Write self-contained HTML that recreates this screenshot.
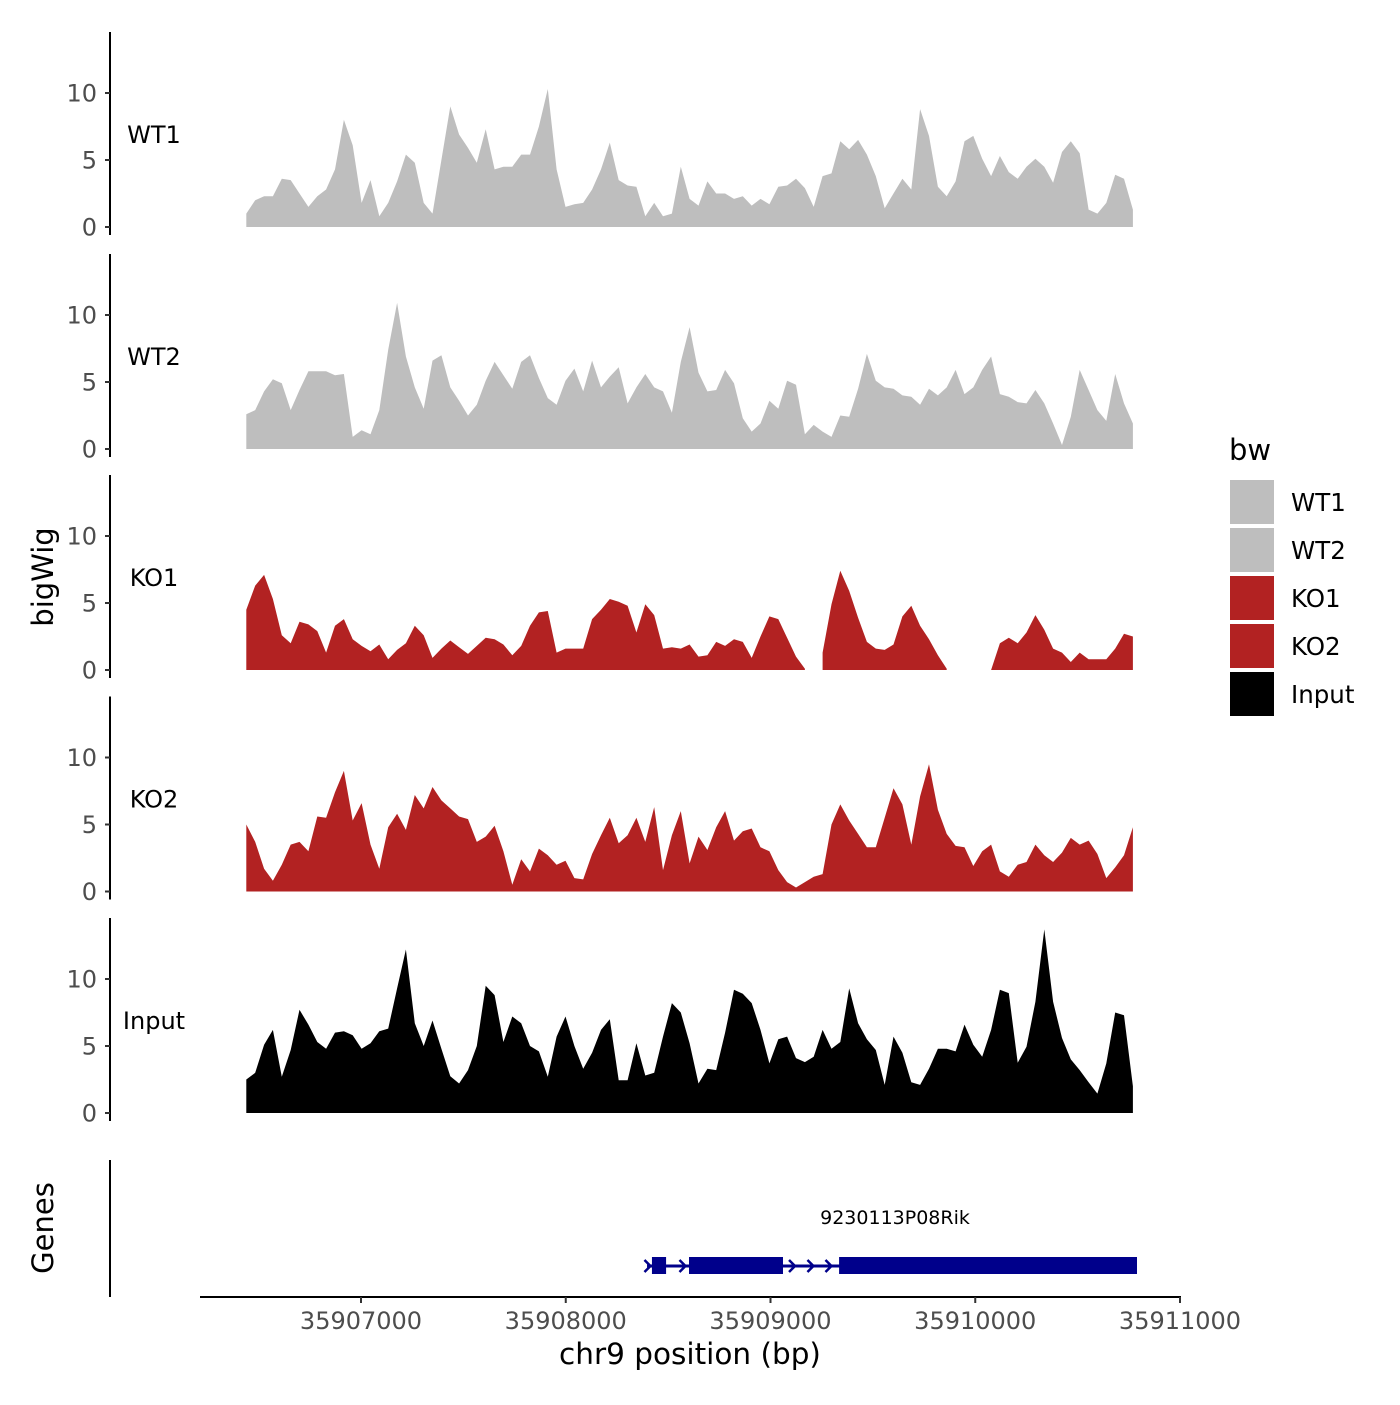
<!DOCTYPE html>
<html><head><meta charset="utf-8"><style>
body{margin:0;background:#fff;}
svg text{font-family:"DejaVu Sans","Liberation Sans",sans-serif;}
</style></head><body>
<svg id="chart" width="1400" height="1400" viewBox="0 0 1400 1400" xmlns="http://www.w3.org/2000/svg">
<rect width="1400" height="1400" fill="#fff"/>
<g id="tracks"></g>
<g id="genes"></g>
<g id="axes"></g>
<text x="0" y="0" transform="translate(53,577) rotate(-90)" text-anchor="middle" font-size="29" fill="#000">bigWig</text>
<text x="0" y="0" transform="translate(53,1228) rotate(-90)" text-anchor="middle" font-size="29" fill="#000">Genes</text>
<text x="690" y="1364" text-anchor="middle" font-size="29.5" fill="#000">chr9 position (bp)</text>
<g>
<text x="1229" y="460" font-size="29" fill="#000">bw</text>
<g id="legendItems"></g>
</g>
</svg>
<script>
const binStart = 35906440;
const binStep = 43.3;
const trackNames = ["WT1","WT2","KO1","KO2","Input"];
const trackColors = ["#bebebe","#bebebe","#b22222","#b22222","#000000"];
const yTicks = [0,5,10];
const xTicks = [35907000,35908000,35909000,35910000,35911000];
const wt1 = [1.0,2.0,2.3,2.3,3.6,3.5,2.5,1.5,2.3,2.8,4.3,8.0,6.1,1.8,3.5,0.8,1.8,3.4,5.4,4.8,1.8,1.0,5.0,9.0,6.9,5.9,4.8,7.3,4.3,4.5,4.5,5.4,5.4,7.5,10.3,4.3,1.5,1.7,1.8,2.8,4.3,6.3,3.5,3.1,3.0,0.8,1.8,0.8,1.0,4.5,2.1,1.6,3.4,2.5,2.5,2.1,2.3,1.6,2.1,1.7,3.0,3.1,3.6,2.9,1.5,3.8,4.0,6.4,5.8,6.5,5.4,3.8,1.4,2.5,3.6,2.8,8.8,6.8,3.0,2.3,3.4,6.4,6.8,5.1,3.8,5.3,4.1,3.6,4.5,5.1,4.5,3.3,5.6,6.4,5.5,1.3,1.0,1.8,3.9,3.6,1.3];
const wt2 = [2.6,2.9,4.3,5.2,4.9,2.9,4.4,5.8,5.8,5.8,5.5,5.6,0.9,1.4,1.1,2.9,7.4,10.9,6.9,4.6,3.0,6.6,7.0,4.6,3.6,2.5,3.3,5.1,6.5,5.5,4.5,6.5,7.0,5.3,3.8,3.3,5.1,6.0,4.3,6.6,4.6,5.4,6.1,3.4,4.6,5.6,4.6,4.3,2.7,6.5,9.1,5.7,4.3,4.4,5.9,4.9,2.3,1.3,1.9,3.6,3.0,5.1,4.8,1.1,1.8,1.3,0.9,2.5,2.4,4.5,7.1,5.1,4.6,4.5,4.0,3.9,3.3,4.5,4.0,4.6,5.9,4.1,4.6,5.9,6.9,4.1,3.9,3.5,3.4,4.4,3.4,1.9,0.3,2.4,5.9,4.4,2.9,2.1,5.6,3.4,1.9];
const ko1 = [4.5,6.3,7.1,5.3,2.6,2.0,3.6,3.4,2.9,1.3,3.3,3.8,2.3,1.8,1.4,1.9,0.8,1.5,2.0,3.3,2.6,0.9,1.6,2.2,1.7,1.2,1.8,2.4,2.3,1.9,1.1,1.8,3.3,4.3,4.4,1.3,1.6,1.6,1.6,3.8,4.5,5.3,5.1,4.8,2.8,4.9,4.1,1.6,1.7,1.6,1.9,1.0,1.1,2.1,1.8,2.3,2.1,0.9,2.5,4.0,3.8,2.4,1.0,0.1,null,1.3,4.9,7.4,5.9,3.9,2.1,1.6,1.5,1.9,4.0,4.8,3.3,2.3,1.1,0.1,null,null,null,null,0,2.0,2.4,2.0,2.8,4.1,3.0,1.6,1.3,0.6,1.3,0.8,0.8,0.8,1.6,2.7,2.5];
const ko2 = [5.0,3.7,1.7,0.8,2.0,3.5,3.7,3.0,5.6,5.5,7.4,9.0,5.3,6.6,3.5,1.7,4.8,5.8,4.6,7.2,6.2,7.8,6.8,6.2,5.6,5.4,3.7,4.1,4.9,3.0,0.5,2.4,1.5,3.2,2.7,2.0,2.3,1.0,0.9,2.8,4.2,5.5,3.6,4.2,5.5,3.7,6.3,1.6,4.2,6.0,2.1,4.1,3.1,4.8,6.0,3.8,4.5,4.7,3.3,3.0,1.6,0.7,0.3,0.7,1.1,1.3,5.0,6.5,5.3,4.3,3.3,3.3,5.5,7.7,6.5,3.5,7.1,9.5,6.1,4.3,3.4,3.3,1.9,3.0,3.5,1.5,1.1,2.0,2.2,3.5,2.7,2.2,2.9,4.0,3.5,3.8,2.8,1.0,1.8,2.7,4.8];
const input = [2.5,3.0,5.1,6.2,2.7,4.7,7.7,6.6,5.3,4.8,6.0,6.1,5.8,4.8,5.2,6.1,6.3,9.3,12.2,6.7,5.0,6.9,4.8,2.75,2.2,3.2,5.0,9.5,8.8,5.3,7.2,6.7,5.0,4.6,2.7,5.7,7.2,5.0,3.3,4.5,6.2,7.0,2.45,2.45,5.2,2.8,3.0,5.7,8.2,7.5,5.2,2.2,3.3,3.2,6.0,9.2,8.9,8.2,6.2,3.7,5.5,5.7,4.1,3.8,4.2,6.2,4.8,5.3,9.3,6.7,5.5,4.7,2.1,5.7,4.5,2.3,2.1,3.3,4.8,4.8,4.6,6.6,5.1,4.2,6.2,9.2,8.95,3.75,4.95,8.3,13.7,8.3,5.6,4.0,3.2,2.3,1.45,3.7,7.5,7.3,2.0];
const geneName = "9230113P08Rik";
const geneStart = 35908397;
const geneEnd = 35910790;
const exonStarts = [35908421,35908602,35909335];
const exonEnds = [35908490,35909061,35910790];
const chevronPos = [35908404,35908575,35909110,35909200,35909288];

const NS="http://www.w3.org/2000/svg";
const trackData=[wt1,wt2,ko1,ko2,input];
const panelZero=[227,449,670,891.5,1113];
const pxPerUnit=13.4;
function xScale(bp){return 361+(bp-35907000)*0.20475;}
function yScale(p,v){return panelZero[p]-v*pxPerUnit;}
function mk(tag,attrs,parent){const e=document.createElementNS(NS,tag);for(const k in attrs)e.setAttribute(k,attrs[k]);parent.appendChild(e);return e;}
const tracks=document.getElementById('tracks');
const axes=document.getElementById('axes');
trackData.forEach((arr,p)=>{
  const g=mk('g',{},tracks);
  
  
  let seg=[];const segs=[];
  arr.forEach((v,i)=>{if(v===null){if(seg.length)segs.push(seg);seg=[];}else seg.push([binStart+i*binStep,v]);});
  if(seg.length)segs.push(seg);
  segs.forEach(s=>{
    let d='M'+xScale(s[0][0]).toFixed(1)+','+panelZero[p];
    s.forEach(pt=>{d+='L'+xScale(pt[0]).toFixed(1)+','+yScale(p,pt[1]).toFixed(1);});
    d+='L'+xScale(s[s.length-1][0]).toFixed(1)+','+panelZero[p]+'Z';
    const path=mk('path',{d:d,fill:trackColors[p]},g);
    
    
  });
  const top=panelZero[p]-195, bot=panelZero[p]+8;
  const ax=mk('line',{x1:110,x2:110,y1:top,y2:bot,stroke:'#000','stroke-width':2},axes);
  
  
  yTicks.forEach(t=>{
    const y=yScale(p,t);
    const tk=mk('line',{x1:105,x2:110,y1:y,y2:y,stroke:'#333','stroke-width':2},axes);
    
    
    const tl=mk('text',{x:97,y:y+8.5,'text-anchor':'end','font-size':24,fill:'#4d4d4d'},axes);
    tl.textContent=t;
    
    
  });
  const lab=mk('text',{x:154,y:panelZero[p]-84,'text-anchor':'middle','font-size':24,fill:'#000'},axes);
  lab.textContent=trackNames[p];
  
  
});
// genes
const gg=document.getElementById('genes');
const gl=mk('line',{x1:xScale(geneStart),x2:xScale(geneEnd),y1:1266,y2:1266,stroke:'#00008b','stroke-width':3},gg);


exonStarts.forEach((s,i)=>{
  const r=mk('rect',{x:xScale(s),y:1257,width:xScale(exonEnds[i])-xScale(s),height:17,fill:'#00008b'},gg);
  
  
});
chevronPos.forEach(c=>{
  const x=xScale(c);
  const ch=mk('polyline',{points:(x-4)+',1260 '+(x+2)+',1266 '+(x-4)+',1272',fill:'none',stroke:'#00008b','stroke-width':2.5},gg);
  
  
});
const gn=mk('text',{x:895,y:1224,'text-anchor':'middle','font-size':19,fill:'#000'},gg);
gn.textContent=geneName;


const gax=mk('line',{x1:110,x2:110,y1:1160,y2:1297,stroke:'#000','stroke-width':2},axes);


// x axis
const xl=mk('line',{x1:200,x2:1181,y1:1297,y2:1297,stroke:'#000','stroke-width':2},axes);


xTicks.forEach(t=>{
  const x=xScale(t);
  const tk=mk('line',{x1:x,x2:x,y1:1297,y2:1303,stroke:'#333','stroke-width':2},axes);
  
  
  const tl=mk('text',{x:x,y:1329,'text-anchor':'middle','font-size':24,fill:'#4d4d4d'},axes);
  tl.textContent=t;
  
  
});
// legend
const li=document.getElementById('legendItems');
trackNames.forEach((n,i)=>{
  const y=480+i*48;
  const r=mk('rect',{x:1230,y:y,width:44,height:44,fill:trackColors[i]},li);
  
  
  const t=mk('text',{x:1291,y:y+31,'font-size':24.5,fill:'#000'},li);
  t.textContent=n;
  
  
});
</script>
</body></html>
